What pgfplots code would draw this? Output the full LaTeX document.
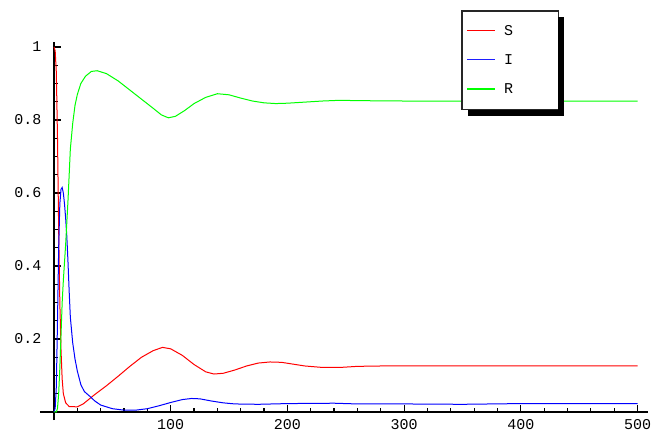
\documentclass[border=0pt]{standalone}
\usepackage{pgfplots}
\pgfplotsset{compat=1.18}
\usepackage{fontspec}
\newfontfamily\cour{Liberation Mono}
\begin{document}
\begin{tikzpicture}
\useasboundingbox (-40pt,-22pt) rectangle (612pt,420pt);
\begin{axis}[
  scale only axis, width=608pt, height=378pt,
  axis lines=left, axis line style={-, line width=1.2pt, black},
  axis x line shift=-8.03pt, axis y line shift=-14pt,
  xmin=-12, xmax=509, ymin=-0.022, ymax=1.0137,
  xtick={0,100,200,300,400,500}, xticklabels={,100,200,300,400,500},
  ytick={0,0.2,0.4,0.6,0.8,1}, yticklabels={,0.2,0.4,0.6,0.8,1},
  minor x tick num=4, minor y tick num=3,
  tick align=inside,
  major tick length=7pt, minor tick length=4pt,
  tick style={draw=black, line width=1.2pt},
  tick label style={font=\cour\fontsize{15}{18}\selectfont},
  yticklabel style={anchor=east, xshift=-9pt},
  xticklabel style={anchor=north, yshift=-4pt},
  legend style={at={(0.694,1.082)}, anchor=north west, name=leg,
    draw=none, fill=white,
    inner xsep=5pt, inner ysep=14pt, row sep=18pt, column sep=0pt,
    font=\cour\fontsize{15}{18}\selectfont,
    nodes={inner sep=0pt}},
  legend cell align=left,
  legend image code/.code={},
]
\addplot[draw=red, line width=1pt] coordinates {
(0,1.0)(1,0.99)(2,0.93)(3,0.75)(4,0.5)(5,0.3)(6,0.17)(7,0.09)(8,0.05)(10,0.025)(13,0.015)(20,0.014)(25,0.022)(30,0.035)(35,0.048)(45,0.072)(55,0.098)(65,0.125)(75,0.15)(85,0.168)(93,0.177)(100,0.173)(110,0.155)(120,0.13)(130,0.11)(137,0.104)(145,0.106)(155,0.115)(165,0.126)(175,0.134)(185,0.137)(195,0.136)(205,0.131)(215,0.126)(230,0.122)(245,0.122)(260,0.125)(280,0.126)(500,0.126)
};
\addlegendentry{\textcolor[RGB]{255,0,0}{\rule[4.3pt]{28pt}{1.4pt}}\hspace{9pt}\makebox[49pt][l]{S}}
\addplot[draw=blue, line width=1pt] coordinates {
(0,0)(1,0.01)(2,0.07)(3,0.25)(4,0.45)(5,0.57)(6,0.61)(7,0.615)(8,0.6)(9,0.57)(10,0.53)(11,0.48)(12,0.41)(13,0.33)(14,0.26)(16,0.19)(18,0.145)(20,0.112)(23,0.075)(26,0.056)(31,0.042)(35,0.03)(40,0.019)(50,0.009)(60,0.005)(70,0.005)(80,0.009)(90,0.017)(100,0.026)(110,0.034)(118,0.037)(125,0.036)(135,0.03)(145,0.025)(155,0.022)(175,0.021)(200,0.023)(240,0.024)(260,0.022)(300,0.022)(350,0.021)(400,0.023)(450,0.023)(500,0.023)
};
\addlegendentry{\textcolor[RGB]{30,30,255}{\rule[4.3pt]{28pt}{1.4pt}}\hspace{9pt}\makebox[49pt][l]{I}}
\addplot[draw=green, line width=1pt] coordinates {
(0,0)(2,0.0)(3,0.01)(4,0.05)(5,0.12)(6,0.21)(7,0.3)(8,0.36)(9,0.41)(10,0.46)(12,0.58)(14,0.72)(16,0.79)(18,0.84)(20,0.87)(23,0.9)(27,0.92)(32,0.933)(37,0.935)(45,0.927)(55,0.907)(65,0.882)(75,0.857)(85,0.832)(92,0.814)(98,0.806)(104,0.81)(112,0.826)(120,0.845)(130,0.862)(140,0.872)(150,0.869)(160,0.86)(170,0.852)(180,0.847)(190,0.845)(200,0.846)(215,0.849)(230,0.852)(245,0.854)(260,0.853)(300,0.852)(500,0.852)
};
\addlegendentry{\textcolor[RGB]{0,255,0}{\rule[4.3pt]{28pt}{1.4pt}}\hspace{9pt}\makebox[49pt][l]{R}}
\end{axis}
\draw[line width=1.5pt, black!85] (leg.south west) rectangle (leg.north east);
\fill[black] ([yshift=-6pt]leg.north east) rectangle ([xshift=6pt,yshift=-6pt]leg.south east);
\fill[black] ([xshift=6pt]leg.south west) rectangle ([xshift=6pt,yshift=-6pt]leg.south east);
\end{tikzpicture}
\end{document}
